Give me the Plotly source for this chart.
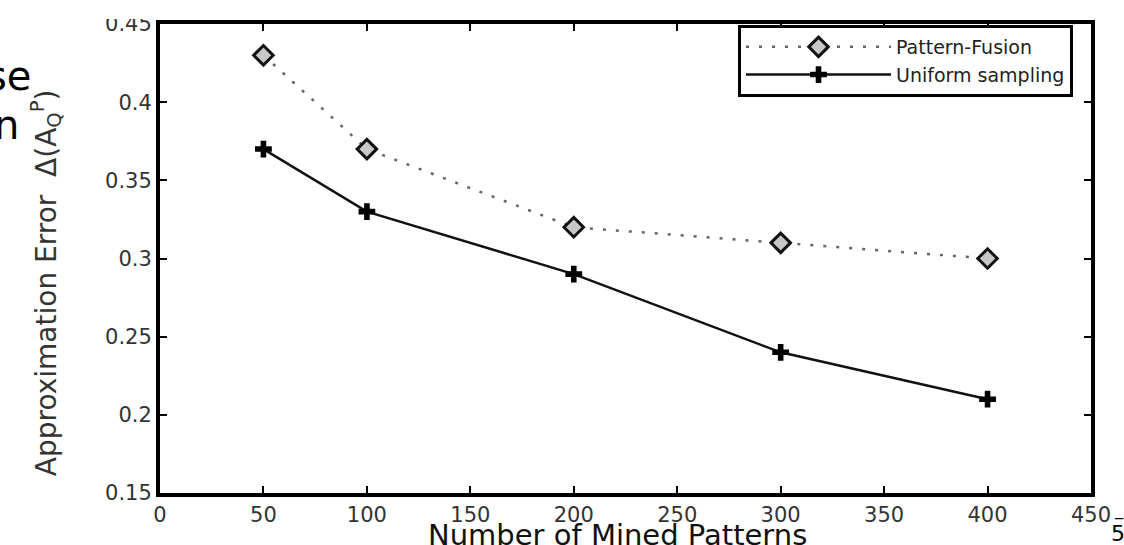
import plotly.graph_objects as go

# ---- data ----
patterns = [50, 100, 200, 300, 400]
pattern_fusion = [0.43, 0.37, 0.32, 0.31, 0.30]
uniform_sampling = [0.37, 0.33, 0.29, 0.24, 0.21]
x_ticks = [0, 50, 100, 150, 200, 250, 300, 350, 400, 450]
y_ticks = [0.15, 0.2, 0.25, 0.3, 0.35, 0.4, 0.45]
y_tick_text = ["0.15", "0.2", "0.25", "0.3", "0.35", "0.4", "0.45"]

W, H = 1124, 545
L, R, T, B = 160, 33, 17, 52
PW, PH = W - L - R, H - T - B


def px(xp):
    return (xp - L) / PW


def py(yp):
    return 1 - (yp - T) / PH


tick_font = dict(family="DejaVu Sans, Arial, sans-serif", size=21, color="#333")

fig = go.Figure()
fig.add_trace(go.Scatter(
    x=patterns, y=pattern_fusion, name="Pattern-Fusion",
    mode="lines+markers",
    line=dict(color="#666", width=2.5, dash="3px,10px"),
    marker=dict(symbol="diamond", size=15, color="#c8c8c8",
                line=dict(color="#111", width=3)),
))
fig.add_trace(go.Scatter(
    x=patterns, y=uniform_sampling, name="Uniform sampling",
    mode="lines+markers",
    line=dict(color="#111", width=2.5),
    marker=dict(symbol="cross", size=14, color="#000",
                line=dict(color="#000", width=0)),
))

axis_common = dict(
    showline=True, linecolor="black", linewidth=4, mirror="ticks",
    ticks="inside", ticklen=7, tickwidth=2, tickcolor="black",
    showgrid=False, zeroline=False, tickfont=tick_font,
)

fig.update_xaxes(range=[0, 450], tickmode="array", tickvals=x_ticks, **axis_common)
fig.update_yaxes(range=[0.15, 0.45], tickmode="array", tickvals=y_ticks,
                 ticktext=y_tick_text, **axis_common)

annotations = [
    dict(text="Number of Mined Patterns", x=px(617), y=py(536), xref="paper", yref="paper",
         xanchor="center", yanchor="middle", showarrow=False,
         font=dict(family="DejaVu Sans, Arial, sans-serif", size=29, color="#111")),
    dict(text="Approximation Error  Δ(A<sub>Q</sub><sup>P</sup>)", x=px(46), y=py(280),
         xref="paper", yref="paper", xanchor="center", yanchor="middle",
         textangle=-90, showarrow=False,
         font=dict(family="DejaVu Sans, sans-serif", size=28, color="#333")),
    dict(text="se", x=px(33), y=py(70), xref="paper", yref="paper",
         xanchor="right", yanchor="middle", showarrow=False,
         font=dict(family="DejaVu Sans, Verdana, sans-serif", size=40, color="#000")),
    dict(text="n", x=px(21), y=py(119), xref="paper", yref="paper",
         xanchor="right", yanchor="middle", showarrow=False,
         font=dict(family="DejaVu Sans, Verdana, sans-serif", size=40, color="#000")),
    dict(text="5", x=px(1109), y=py(534), xref="paper", yref="paper",
         xanchor="left", yanchor="middle", showarrow=False,
         font=dict(family="DejaVu Sans, sans-serif", size=22, color="#000")),
    dict(text="_", x=px(1119), y=py(510), xref="paper", yref="paper",
         xanchor="center", yanchor="middle", showarrow=False,
         font=dict(family="DejaVu Sans, sans-serif", size=16, color="#000")),
]

fig.update_layout(
    width=W, height=H,
    margin=dict(l=L, r=R, t=T, b=B, pad=0),
    paper_bgcolor="white", plot_bgcolor="white",
    showlegend=True,
    legend=dict(x=px(1073), y=py(18), xanchor="right", yanchor="top",
                bgcolor="white", bordercolor="black", borderwidth=3,
                font=dict(family="DejaVu Sans, Arial, sans-serif", size=19, color="#222"),
                itemwidth=145, tracegroupgap=0),
    annotations=annotations,
    shapes=[dict(type="rect", xref="paper", yref="paper",
                 x0=px(0), x1=px(152), y0=py(12), y1=py(0),
                 fillcolor="white", line=dict(width=0), layer="above")],
)

fig.write_html("out.html")
